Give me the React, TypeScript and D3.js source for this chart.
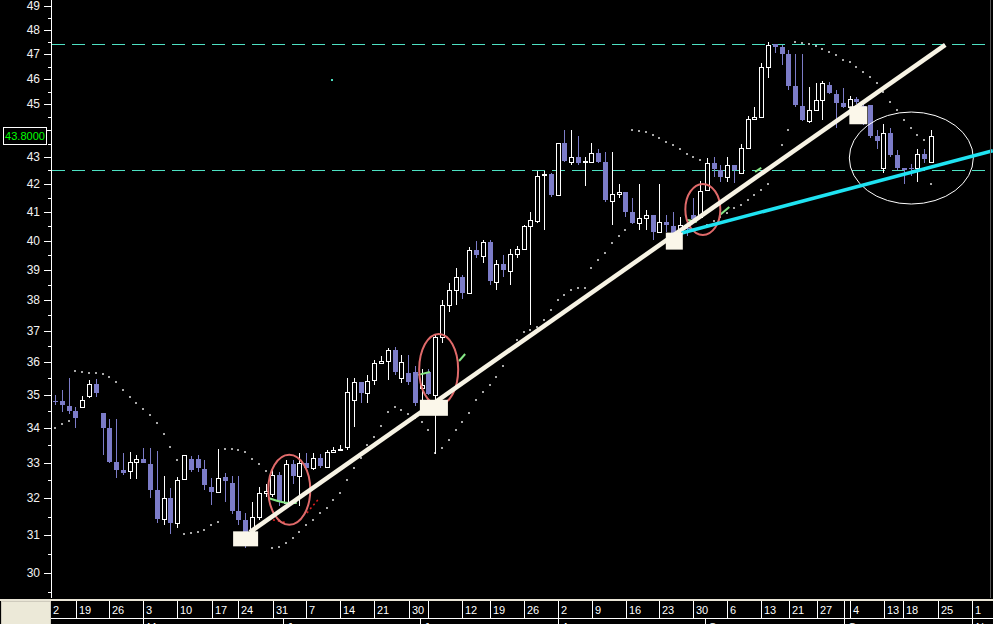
import React from 'react'
import * as d3 from 'd3'

// daily OHLC, oldest first
const opens = [
  34.8, 34.8, 34.67, 34.52, 34.64, 34.97, 35.33, 34.45, 34.0, 33.03,
  32.8, 32.77, 33.03, 33.11, 32.97, 32.24, 31.44, 32.01, 31.33, 32.55,
  33.11, 33.11, 32.83, 32.32, 32.18, 32.6, 32.43, 31.66, 31.41, 31.11,
  31.49, 32.15, 32.12, 32.66, 31.87, 32.97, 32.63, 33.0, 32.86, 33.14,
  32.88, 33.31, 33.37, 33.46, 34.85, 35.39, 35.06, 35.45, 35.98, 36.04,
  36.38, 35.5, 35.66, 35.69, 35.2, 35.69, 35.0, 36.8, 37.82, 38.32,
  38.76, 38.22, 39.67, 39.48, 39.95, 38.6, 39.19, 38.96, 39.53, 39.7,
  40.49, 40.69, 42.33, 42.37, 41.61, 43.52, 42.82, 43.0, 42.8, 42.82,
  43.15, 42.82, 41.39, 41.64, 41.71, 41.0, 40.61, 40.79, 40.9, 40.3,
  40.65, 40.5, 40.37, 40.45, 40.9, 40.83, 41.79, 42.78, 42.52, 42.26,
  42.7, 42.41, 43.33, 44.42, 44.5, 46.48, 47.41, 47.29, 47.0, 45.72,
  44.94, 44.35, 44.77, 45.17, 45.76, 45.41, 45.06, 44.9, 45.21, 44.94,
  44.97, 43.8, 42.6, 43.9, 43.07, 42.6, 42.6, 42.6, 43.11, 42.8,
]
const highs = [
  35.0, 35.15, 35.5, 34.64, 34.97, 35.45, 35.48, 34.45, 34.28, 34.28,
  33.28, 33.31, 33.22, 33.43, 33.43, 33.34, 32.62, 32.3, 32.6, 33.22,
  33.2, 33.22, 33.08, 32.57, 33.39, 32.7, 32.62, 32.62, 31.6, 31.9,
  32.32, 32.4, 32.8, 32.74, 33.08, 33.08, 33.28, 33.28, 33.28, 33.25,
  33.37, 33.45, 33.5, 35.5, 35.51, 35.39, 35.6, 36.07, 36.2, 36.45,
  36.48, 36.22, 36.22, 35.9, 35.8, 35.8, 36.85, 37.98, 38.55, 39.05,
  38.82, 39.77, 40.0, 40.02, 40.02, 39.33, 39.5, 39.7, 39.8, 40.53,
  41.0, 42.49, 42.49, 42.4, 43.52, 44.0, 44.0, 43.8, 43.0, 43.52,
  43.3, 43.18, 43.18, 42.0, 41.71, 41.5, 42.0, 41.07, 40.9, 42.0,
  40.9, 41.0, 40.83, 40.75, 41.5, 42.1, 42.95, 43.0, 42.7, 43.0,
  42.7, 43.5, 44.57, 44.89, 46.64, 47.5, 47.41, 47.37, 47.16, 47.0,
  47.0, 45.7, 45.86, 45.92, 45.88, 45.56, 45.64, 45.33, 45.3, 45.0,
  44.97, 44.0, 44.26, 44.1, 43.26, 42.6, 42.75, 43.29, 43.29, 44.0,
]
const lows = [
  34.7, 34.49, 34.43, 34.0, 34.64, 34.9, 34.94, 33.23, 33.0, 32.57,
  32.65, 32.55, 32.55, 33.0, 32.01, 31.33, 31.28, 31.03, 31.19, 32.5,
  32.75, 32.75, 32.24, 31.82, 32.18, 31.9, 31.58, 31.28, 30.66, 31.11,
  31.4, 32.05, 32.05, 31.8, 31.8, 32.4, 31.8, 32.8, 32.8, 32.85,
  32.85, 33.3, 33.35, 33.37, 34.04, 34.76, 34.76, 35.3, 35.95, 35.46,
  35.6, 35.35, 35.3, 34.65, 34.76, 35.0, 33.25, 36.6, 37.6, 37.82,
  38.02, 38.2, 39.4, 39.23, 38.5, 38.33, 38.75, 38.5, 39.4, 39.7,
  37.18, 40.62, 40.36, 41.54, 41.61, 42.8, 42.7, 42.7, 41.92, 42.78,
  42.78, 41.36, 40.55, 41.5, 40.82, 40.58, 40.37, 40.37, 40.02, 40.3,
  40.3, 40.2, 40.2, 40.15, 40.7, 40.83, 41.79, 42.25, 42.08, 42.08,
  42.04, 42.41, 43.33, 44.4, 44.5, 46.04, 47.04, 46.56, 45.56, 44.9,
  44.35, 44.3, 44.77, 44.38, 45.4, 44.1, 44.85, 44.85, 45.0, 44.2,
  43.72, 43.3, 42.41, 43.0, 42.52, 42.0, 42.3, 42.08, 42.78, 42.8,
]
const closes = [
  34.8, 34.68, 34.52, 34.31, 34.85, 35.33, 35.06, 34.0, 33.03, 32.8,
  32.71, 33.03, 33.11, 33.0, 32.24, 31.44, 32.01, 31.33, 32.52, 33.22,
  32.8, 32.86, 32.38, 32.18, 32.57, 32.49, 31.66, 31.41, 31.08, 31.49,
  32.15, 32.2, 32.66, 31.9, 32.97, 32.63, 33.0, 32.86, 33.14, 32.91,
  33.31, 33.37, 33.4, 35.09, 35.39, 35.06, 35.42, 35.97, 36.04, 36.38,
  35.71, 36.0, 35.39, 34.76, 35.3, 35.03, 36.8, 37.82, 38.32, 38.76,
  38.22, 39.67, 39.5, 39.95, 38.62, 39.19, 38.99, 39.53, 39.7, 40.51,
  40.73, 42.31, 42.37, 41.61, 43.52, 42.85, 43.0, 42.78, 42.85, 43.15,
  42.82, 41.43, 41.64, 41.71, 41.0, 40.61, 40.79, 40.9, 40.3, 40.65,
  40.54, 40.26, 40.54, 40.4, 40.75, 41.75, 42.78, 42.56, 42.26, 42.7,
  42.52, 43.33, 44.42, 44.5, 46.48, 47.37, 47.29, 47.0, 45.72, 44.98,
  44.4, 44.77, 45.17, 45.84, 45.45, 45.06, 44.9, 45.21, 45.1, 44.25,
  43.8, 43.58, 43.9, 43.07, 42.6, 42.52, 42.55, 43.11, 42.93, 43.8,
]
// parabolic SAR dots, one per session
const sar = [
  34.01, 34.13, 34.22, 35.73, 35.7, 35.67, 35.67, 35.64, 35.55, 35.4,
  35.15, 34.94, 34.76, 34.58, 34.4, 34.16, 33.84, 33.46, 33.08, 31.03,
  31.06, 31.09, 31.14, 31.28, 31.36, 33.4, 33.4, 33.37, 33.32, 33.11,
  32.97, 32.77, 30.66, 30.69, 30.79, 30.92, 31.09, 31.28, 31.41, 31.6,
  31.74, 31.96, 32.15, 32.52, 32.86, 33.14, 33.52, 33.75, 34.07, 34.49,
  34.64, 34.55, 34.43, 34.31, 34.19, 33.95, 33.29, 33.43, 33.66, 33.95,
  34.19, 34.46, 34.85, 35.09, 35.3, 35.55, 35.89, 36.39, 36.7, 36.96,
  37.02, 37.12, 37.34, 37.67, 37.99, 38.16, 38.33, 38.39, 38.39, 39.06,
  39.33, 39.57, 39.91, 40.16, 40.37, 44.02, 43.98, 43.94, 43.83, 43.72,
  43.57, 43.46, 43.3, 43.11, 43.0, 42.89, 40.54, 40.68, 40.82, 40.96,
  41.14, 41.25, 41.43, 41.61, 41.79, 42.01, 42.71, 43.45, 44.02, 47.5,
  47.46, 47.42, 47.34, 47.21, 47.09, 46.97, 46.77, 46.69, 46.48, 46.28,
  46.08, 45.84, 45.49, 45.09, 44.79, 44.4, 44.09, 43.83, 43.64, 42.01,
]

const dateLabels = ['2', '19', '26', '3', '10', '17', '24', '31', '7', '14', '21', '30', '', '12', '19', '26', '2', '9', '16', '23', '30', '6', '13', '21', '27', '', '4', '13', '18', '25', '1']
const dateAt = [-0.7, 3.1, 7.95, 12.96, 17.97, 23.1, 26.95, 32.1, 36.97, 41.97, 46.98, 52.1, 54.9, 59.9, 64.06, 69.07, 74.08, 79.09, 84.1, 88.95, 93.96, 98.97, 103.98, 108.1, 112.2, 116.2, 117.1, 122.1, 124.9, 130.04, 135.05]
const monthLabels = ['M', 'J', 'J', 'A', 'S', 'O', 'N']
const monthAt = [12.96, 33.6, 53.8, 74.08, 95.7, 116.2, 135.05]

// drawing annotations (session index, price)
const levels = [47.4, 42.5]
const whiteTrend = [[28.7, 31.08], [131.1, 47.38]]
const cyanTrend = [[92.3, 40.26], [138.1, 43.23]]
const pivotAt = [28.07, 55.8, 91.2, 118.3]
const pivotPrice = [30.9, 34.61, 39.98, 44.58]
const redRingAt = [34.5, 56.5, 95.4]
const redRingPrice = [32.24, 35.78, 41.09]
const whiteRingAt = 126.1
const whiteRingPrice = 42.96
const greenMarks = [
  [[31.4, 32.01], [32.7, 31.93], [33.9, 31.87], [35.6, 31.87]],
  [[53.5, 35.61], [55.2, 35.7]],
  [[59.5, 36.04], [60.4, 36.26]],
  [[93.2, 40.72], [94.5, 40.65]],
  [[97.9, 40.89], [99.3, 41.18]],
  [[103.1, 42.45], [104.0, 42.6]],
]
const redMarks = [
  [[32.1, 31.41], [34.2, 31.33]],
  [[37.1, 31.6], [38.7, 31.96]],
]
const lastPrice = 43.8

const W = 993
const H = 624
const BLUE = '#7c7cc8'
const FONT = '"Liberation Sans", Arial, sans-serif'

export default function App() {
  const x = d3.scaleLinear().domain([0, 129]).range([55, 931])
  const y = d3.scaleLog().domain([30, 49]).range([573, 6])
  const px = (i: number) => Math.round(x(i))
  const line = d3.line<number[]>().x(d => x(d[0])).y(d => y(d[1]))
  const curve = d3.line<number[]>().x(d => x(d[0])).y(d => y(d[1])).curve(d3.curveBasis)

  const boxSizes = [[25, 15], [28, 16], [17, 17], [18, 18]]
  const ringSizes = [[21, 35], [19.5, 35.5], [17.5, 25.5]]

  const majors = d3.range(30, 50)
  const minors = d3.range(29.5, 49, 1)
  const lastY = y(lastPrice)
  // the last-price box hides the tick label underneath it
  const shown = majors.filter(v => Math.abs(y(v) - lastY) > 10)

  return (
    <svg width={W} height={H} style={{ position: 'absolute', left: 0, top: 0, background: '#000' }}>
      <rect width={W} height={H} fill="#000" />

      {/* price levels */}
      {levels.map((v, i) => (
        <line key={i} x1={52} x2={990} y1={Math.round(y(v)) + 0.5} y2={Math.round(y(v)) + 0.5}
          stroke="#4ee0c2" strokeWidth={1} strokeDasharray="13,7" />
      ))}

      {/* SAR */}
      {sar.map((v, i) => v == null ? null : (
        <rect key={i} x={px(i) - 1} y={Math.round(y(v)) - 1} width={2} height={2} fill="#a8a8a8" />
      ))}

      {/* candles */}
      <g shapeRendering="crispEdges">
        {opens.map((o, i) => {
          const c = closes[i]
          const cx = px(i)
          const yh = Math.round(y(highs[i]))
          const yl = Math.round(y(lows[i]))
          if (c > o) {
            const top = Math.round(y(c))
            const bot = Math.round(y(o))
            return (
              <g key={i} stroke="#fff" strokeWidth={1}>
                {yh < top && <line x1={cx + 0.5} x2={cx + 0.5} y1={yh} y2={top} />}
                {yl > bot && <line x1={cx + 0.5} x2={cx + 0.5} y1={bot} y2={yl} />}
                <rect x={cx - 1.5} y={top + 0.5} width={4} height={Math.max(bot - top, 1)} fill="#000" />
              </g>
            )
          }
          const top = Math.round(y(o))
          const bot = Math.round(y(c))
          return (
            <g key={i}>
              <line x1={cx + 0.5} x2={cx + 0.5} y1={yh} y2={yl} stroke={BLUE} strokeWidth={1} />
              <rect x={cx - 2} y={top} width={5} height={Math.max(bot - top, 1)} fill={BLUE} />
            </g>
          )
        })}
      </g>

      {/* hand-drawn marks */}
      {greenMarks.map((m, i) => (
        <path key={i} d={curve(m) || ''} fill="none" stroke="#86e886" strokeWidth={2} />
      ))}
      {redMarks.map((m, i) => (
        <path key={i} d={line(m) || ''} fill="none" stroke="#e02020" strokeWidth={1.5} strokeDasharray="2,3" />
      ))}
      {redRingAt.map((a, i) => (
        <ellipse key={i} cx={x(a)} cy={y(redRingPrice[i])} rx={ringSizes[i][0]} ry={ringSizes[i][1]}
          fill="none" stroke="#e06a6a" strokeWidth={2} />
      ))}
      <ellipse cx={x(whiteRingAt)} cy={y(whiteRingPrice)} rx={62} ry={46} fill="none" stroke="#fff" strokeWidth={1} />

      {/* trend lines */}
      <path d={line(whiteTrend) || ''} stroke="#f7f3e4" strokeWidth={4.5} fill="none" />
      <path d={line(cyanTrend) || ''} stroke="#1fe3f2" strokeWidth={3.5} fill="none" />

      {pivotAt.map((a, i) => (
        <rect key={i} x={x(a) - boxSizes[i][0] / 2} y={y(pivotPrice[i]) - boxSizes[i][1] / 2}
          width={boxSizes[i][0]} height={boxSizes[i][1]} fill="#fbf7ea" />
      ))}
      <rect x={331} y={y(46.0)} width={2} height={2} fill="#4ee0c2" />

      {/* right frame */}
      <line x1={990.5} x2={990.5} y1={0} y2={598} stroke="#555" />

      {/* price axis */}
      <g shapeRendering="crispEdges">
        <line x1={51.5} x2={51.5} y1={0} y2={600} stroke="#fff" />
        {majors.map(v => (
          <line key={v} x1={44} x2={51} y1={Math.round(y(v)) + 0.5} y2={Math.round(y(v)) + 0.5} stroke="#fff" />
        ))}
        {minors.map(v => (
          <line key={v} x1={48} x2={51} y1={Math.round(y(v)) + 0.5} y2={Math.round(y(v)) + 0.5} stroke="#fff" />
        ))}
      </g>
      {shown.map(v => (
        <text key={v} x={40} y={y(v) + 4} textAnchor="end" fill="#f2f2f2" fontSize={12} fontFamily={FONT}>{v}</text>
      ))}
      <rect x={3.5} y={Math.round(lastY) - 8.5} width={43} height={17} fill="#000" stroke="#fff" />
      <text x={25} y={lastY + 4} textAnchor="middle" fill="#00ff00" fontSize={11} fontFamily={FONT}>
        {lastPrice.toFixed(4)}
      </text>

      {/* date axis */}
      <g shapeRendering="crispEdges">
        <rect x={0} y={598} width={W} height={26} fill="#000" />
        <line x1={0} x2={W} y1={600} y2={600} stroke="#e9e5d6" strokeWidth={2} />
        <line x1={50} x2={W} y1={618.5} y2={618.5} stroke="#fff" />
        {dateAt.map((a, i) => (
          <line key={i} x1={px(a) + 0.5} x2={px(a) + 0.5} y1={601} y2={618} stroke="#fff" />
        ))}
        {monthAt.map((a, i) => (
          <line key={i} x1={px(a) + 0.5} x2={px(a) + 0.5} y1={619} y2={624} stroke="#fff" />
        ))}
        <rect x={1} y={601} width={49} height={23} fill="#ece9d8" stroke="#cfcbbd" />
      </g>
      {dateLabels.map((t, i) => (
        <text key={i} x={px(dateAt[i]) + 3} y={614} fill="#fff" fontSize={11} fontFamily={FONT}>{t}</text>
      ))}
      {monthLabels.map((t, i) => (
        <text key={i} x={px(monthAt[i]) + 4} y={631} fill="#fff" fontSize={11} fontFamily={FONT}>{t}</text>
      ))}
    </svg>
  )
}
